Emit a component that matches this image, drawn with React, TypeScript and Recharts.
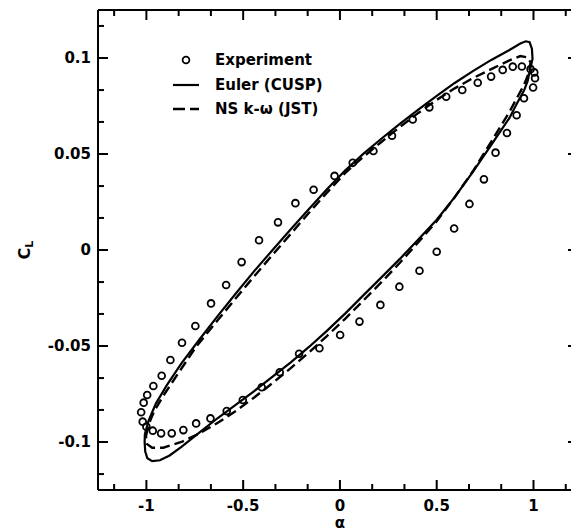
import React from 'react';
import { ComposedChart, XAxis, YAxis, Scatter, Line, Legend, ReferenceLine } from 'recharts';

const xMajorTicks = [-1, -0.5, 0, 0.5, 1];
const xMinorTicks = [-1.1667, -0.8333, -0.6667, -0.3333, -0.1667, 0.1667, 0.3333, 0.6667, 0.8333, 1.1667];
const yMajorTicks = [-0.1, -0.05, 0, 0.05, 0.1];
const yMinorTicks = [-0.1167, -0.0833, -0.0667, -0.0333, -0.0167, 0.0167, 0.0333, 0.0667, 0.0833, 0.1167];

const seriesNames = ['Experiment', 'Euler (CUSP)', 'NS k-\u03c9 (JST)'];

// Experiment: [alpha, CL]
const experimentPts: number[][] = [
  [-1.027, -0.0845], [-1.014, -0.0795], [-0.996, -0.0755], [-0.964, -0.0708], [-0.921, -0.0655],
  [-0.876, -0.0573], [-0.816, -0.0483], [-0.747, -0.0396], [-0.666, -0.0278], [-0.588, -0.0182],
  [-0.508, -0.0063], [-0.418, 0.0051], [-0.320, 0.0144], [-0.230, 0.0244], [-0.136, 0.0314],
  [-0.028, 0.0386], [0.066, 0.0454], [0.173, 0.0516], [0.269, 0.0595], [0.376, 0.0680],
  [0.462, 0.0743], [0.549, 0.0798], [0.632, 0.0833], [0.712, 0.0871], [0.781, 0.0903],
  [0.841, 0.0938], [0.893, 0.0955], [0.940, 0.0956], [0.985, 0.0942], [1.004, 0.0925],
  [1.008, 0.0895], [0.998, 0.0846],
  [0.951, 0.0790], [0.913, 0.0702], [0.863, 0.0609], [0.804, 0.0507], [0.744, 0.0368],
  [0.669, 0.0240], [0.590, 0.0112], [0.500, -0.0009], [0.411, -0.0108], [0.307, -0.0191],
  [0.209, -0.0286], [0.101, -0.0373], [0.001, -0.0443], [-0.106, -0.0512], [-0.211, -0.0540],
  [-0.311, -0.0637], [-0.404, -0.0715], [-0.502, -0.0781], [-0.585, -0.0839], [-0.669, -0.0877],
  [-0.743, -0.0903], [-0.809, -0.0938], [-0.869, -0.0955], [-0.924, -0.0955], [-0.967, -0.0941],
  [-1.000, -0.0920], [-1.019, -0.0894],
];

// Euler (CUSP) closed loop
const eulerPts: number[][] = [
  [-1.008, -0.096], [-0.989, -0.089], [-0.951, -0.080], [-0.895, -0.0705], [-0.819, -0.0590],
  [-0.725, -0.0465], [-0.631, -0.0343], [-0.537, -0.0225], [-0.443, -0.0110], [-0.348, 0.0000],
  [-0.254, 0.0108], [-0.160, 0.0214], [-0.066, 0.0318], [0.028, 0.0415], [0.122, 0.0502],
  [0.217, 0.0582], [0.311, 0.0658], [0.405, 0.0731], [0.500, 0.0803], [0.593, 0.0870],
  [0.687, 0.0932], [0.782, 0.0990], [0.876, 0.1042], [0.932, 0.1075], [0.960, 0.1087],
  [0.980, 0.1082], [0.992, 0.1047], [0.995, 0.0995], [0.985, 0.0950],
  [0.970, 0.0880], [0.951, 0.0830], [0.913, 0.0760], [0.876, 0.0688], [0.782, 0.0547],
  [0.687, 0.0407], [0.593, 0.0275], [0.500, 0.0158], [0.405, 0.0055], [0.311, -0.0045],
  [0.217, -0.0140], [0.122, -0.0235], [0.028, -0.0330], [-0.066, -0.0420], [-0.160, -0.0505],
  [-0.254, -0.0585], [-0.348, -0.0660], [-0.443, -0.0735], [-0.537, -0.0805], [-0.631, -0.0875],
  [-0.725, -0.0950], [-0.819, -0.1025], [-0.880, -0.1070], [-0.930, -0.1095], [-0.970, -0.1100],
  [-0.995, -0.1085], [-1.006, -0.1050], [-1.009, -0.1000], [-1.008, -0.096],
];

// NS k-omega (JST) closed loop
const nsPts: number[][] = [
  [-1.002, -0.097], [-0.989, -0.091], [-0.960, -0.084], [-0.913, -0.076], [-0.838, -0.0646],
  [-0.744, -0.0505], [-0.631, -0.0365], [-0.537, -0.0250], [-0.443, -0.0137], [-0.348, -0.0025],
  [-0.254, 0.0084], [-0.160, 0.0194], [-0.066, 0.0300], [0.028, 0.0402], [0.122, 0.0486],
  [0.217, 0.0565], [0.311, 0.0642], [0.405, 0.0714], [0.500, 0.0782], [0.593, 0.0842],
  [0.687, 0.0895], [0.782, 0.0942], [0.876, 0.0988], [0.932, 0.1010], [0.970, 0.1003],
  [0.985, 0.0977],
  [0.975, 0.0920], [0.951, 0.0860], [0.876, 0.0720], [0.782, 0.0565], [0.687, 0.0410],
  [0.593, 0.0275], [0.500, 0.0150], [0.405, 0.0040], [0.311, -0.0065], [0.217, -0.0165],
  [0.122, -0.0262], [0.028, -0.0357], [-0.066, -0.0447], [-0.160, -0.0533], [-0.254, -0.0615],
  [-0.348, -0.0693], [-0.443, -0.0768], [-0.537, -0.0838], [-0.631, -0.0900], [-0.725, -0.0955],
  [-0.819, -0.1000], [-0.913, -0.1030], [-0.970, -0.1030], [-0.998, -0.1010], [-1.002, -0.097],
];

const toRows = (pts: number[][]) => pts.map(([a, c]) => ({ a, c }));
const expData = toRows(experimentPts);
const eulerData = toRows(eulerPts);
const nsData = toRows(nsPts);

const FONT = '"DejaVu Sans", sans-serif';
const CHART_W = 600;
const CHART_H = 531;
const MARGIN = { top: 10, right: 22, bottom: 0, left: 0 };
const Y_AXIS_W = 98;
const X_AXIS_H = 41;
const PLOT_W = CHART_W - MARGIN.left - MARGIN.right - Y_AXIS_W;
const PLOT_H = CHART_H - MARGIN.top - MARGIN.bottom - X_AXIS_H;

const isMajor = (v: number, majors: number[]) => majors.some((m) => Math.abs(m - v) < 1e-6);
const fmt = (v: number) => String(v);

// Bottom ticks (inward) plus mirrored ticks on the top frame edge
const BottomTick = (p: any) => {
  const major = isMajor(p.payload.value, xMajorTicks);
  const len = major ? 10 : 6;
  const top = p.y - PLOT_H;
  return (
    <g>
      <line x1={p.x} y1={p.y} x2={p.x} y2={p.y - len} stroke="#000" strokeWidth={2} />
      <line x1={p.x} y1={top} x2={p.x} y2={top + len} stroke="#000" strokeWidth={2} />
      {major && (
        <text x={p.x} y={p.y + 21} textAnchor="middle" fontFamily={FONT} fontWeight="bold" fontSize={15} fill="#000">
          {fmt(p.payload.value)}
        </text>
      )}
    </g>
  );
};
// Left ticks (inward) plus mirrored ticks on the right frame edge
const LeftTick = (p: any) => {
  const major = isMajor(p.payload.value, yMajorTicks);
  const len = major ? 10 : 6;
  const right = p.x + PLOT_W;
  return (
    <g>
      <line x1={p.x} y1={p.y} x2={p.x + len} y2={p.y} stroke="#000" strokeWidth={2} />
      <line x1={right} y1={p.y} x2={right - len} y2={p.y} stroke="#000" strokeWidth={2} />
      {major && (
        <text x={p.x - 7} y={p.y} dy="0.36em" textAnchor="end" fontFamily={FONT} fontWeight="bold" fontSize={15} fill="#000">
          {fmt(p.payload.value)}
        </text>
      )}
    </g>
  );
};

const YLabel = (p: any) => {
  const vb = p.viewBox || { x: 0, y: 10, width: 98, height: 480 };
  const cx = vb.x + 30;
  const cy = vb.y + vb.height / 2;
  return (
    <text x={cx} y={cy} transform={`rotate(-90, ${cx}, ${cy})`} textAnchor="middle" fontFamily={FONT} fontWeight="bold" fontSize={16} fill="#000">
      C<tspan dy={3} fontSize={11}>L</tspan>
    </text>
  );
};
const XLabel = (p: any) => {
  const vb = p.viewBox || { x: 98, y: 490, width: 480, height: 41 };
  return (
    <text x={vb.x + vb.width / 2 + 2} y={vb.y + 38} textAnchor="middle" fontFamily={FONT} fontWeight="bold" fontSize={15} fill="#000">
      {'\u03b1'}
    </text>
  );
};

const Circle = (p: any) => (
  <circle cx={p.cx} cy={p.cy} r={3.4} fill="none" stroke="#000" strokeWidth={1.8} />
);

const LegendBox = () => (
  <div style={{ fontFamily: FONT, fontWeight: 'bold', fontSize: 15, color: '#000' }}>
    {seriesNames.map((name, i) => (
      <div key={name} style={{ display: 'flex', alignItems: 'center', height: 24.5 }}>
        <svg width={45} height={20} style={{ display: 'block' }}>
          {i === 0 && <circle cx={16} cy={10} r={3.4} fill="none" stroke="#000" strokeWidth={1.8} />}
          {i === 1 && <line x1={3} y1={10} x2={29} y2={10} stroke="#000" strokeWidth={2.2} />}
          {i === 2 && <line x1={3} y1={10} x2={29} y2={10} stroke="#000" strokeWidth={2.6} strokeDasharray="12 5" />}
        </svg>
        <span style={{ whiteSpace: 'nowrap', lineHeight: '20px' }}>{name}</span>
      </div>
    ))}
  </div>
);

const xTicks = [...xMajorTicks, ...xMinorTicks].sort((a, b) => a - b);
const yTicks = [...yMajorTicks, ...yMinorTicks].sort((a, b) => a - b);
const xDomain: [number, number] = [-1.25, 1.23];
const yDomain: [number, number] = [-0.125, 0.125];

export default function App() {
  return (
    <div style={{ position: 'absolute', left: 0, top: 0, width: 571, height: 531, overflow: 'hidden', background: '#fff' }}>
      <ComposedChart width={CHART_W} height={CHART_H} margin={MARGIN}>
        <XAxis xAxisId="b" dataKey="a" type="number" orientation="bottom" domain={xDomain} allowDataOverflow
          ticks={xTicks} interval={0} tickSize={0} tickMargin={0} tickLine={false} height={X_AXIS_H}
          axisLine={{ stroke: '#000', strokeWidth: 2 }} tick={(p: any) => <BottomTick {...p} />}
          label={<XLabel />} />
        <YAxis yAxisId="l" dataKey="c" type="number" orientation="left" domain={yDomain} allowDataOverflow
          ticks={yTicks} interval={0} tickSize={0} tickMargin={0} tickLine={false} width={Y_AXIS_W}
          axisLine={{ stroke: '#000', strokeWidth: 2 }} tick={(p: any) => <LeftTick {...p} />}
          label={<YLabel />} />
        <ReferenceLine xAxisId="b" yAxisId="l" y={yDomain[1]} stroke="#000" strokeWidth={2.2} ifOverflow="visible" />
        <ReferenceLine xAxisId="b" yAxisId="l" x={xDomain[1]} stroke="#000" strokeWidth={2.2} ifOverflow="visible" />
        <Line xAxisId="b" yAxisId="l" data={eulerData} dataKey="c" name={seriesNames[1]} type="linear"
          stroke="#000" strokeWidth={2.2} dot={false} activeDot={false} isAnimationActive={false} />
        <Line xAxisId="b" yAxisId="l" data={nsData} dataKey="c" name={seriesNames[2]} type="linear"
          stroke="#000" strokeWidth={2.4} strokeDasharray="10 5" dot={false} activeDot={false} isAnimationActive={false} />
        <Scatter xAxisId="b" yAxisId="l" data={expData} dataKey="c" name={seriesNames[0]}
          shape={(p: any) => <Circle {...p} />} isAnimationActive={false} />
        <Legend layout="vertical" align="center" verticalAlign="middle" content={() => <LegendBox />}
          wrapperStyle={{ position: 'absolute', left: 170, top: 48, width: 220, height: 'auto' }} />
      </ComposedChart>
    </div>
  );
}
